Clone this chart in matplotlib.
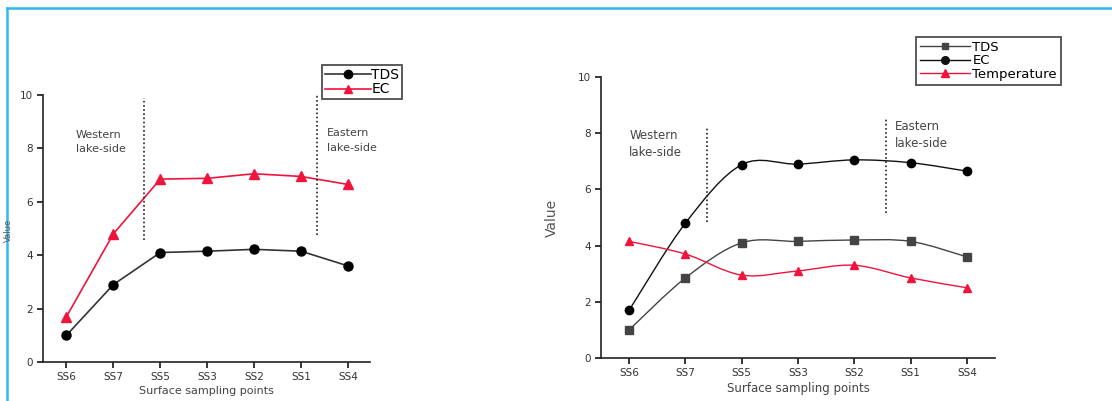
import matplotlib.pyplot as plt
import numpy as np
from matplotlib.path import Path
from matplotlib.patches import PathPatch
from matplotlib.lines import Line2D

# data
points = ["SS6", "SS7", "SS5", "SS3", "SS2", "SS1", "SS4"]
tds_a = [1.0, 2.9, 4.1, 4.15, 4.22, 4.15, 3.6]
ec_a = [1.7, 4.8, 6.85, 6.88, 7.05, 6.95, 6.65]
tds_b = [1.0, 2.85, 4.1, 4.15, 4.2, 4.15, 3.6]
ec_b = [1.7, 4.8, 6.88, 6.9, 7.05, 6.95, 6.65]
temp_b = [4.15, 3.7, 2.95, 3.1, 3.3, 2.85, 2.5]

RED = "#f0143c"
GREY = "#333333"
TXT = "#333333"

plt.rcParams["font.family"] = ["DejaVu Sans"]

fig = plt.figure(figsize=(11.12, 4.01), dpi=100)
W, H = 1112, 401


def px_axes(x0, y0, x1, y1):
    return fig.add_axes([x0 / W, (H - y1) / H, (x1 - x0) / W, (y1 - y0) / H])


def style(ax, xmax):
    ax.set_xlim(-0.5, xmax)
    ax.set_ylim(0, 10)
    ax.set_xticks(range(len(points)))
    ax.set_xticklabels(points)
    ax.set_yticks([0, 2, 4, 6, 8, 10])
    for s in ["top", "right"]:
        ax.spines[s].set_visible(False)
    for s in ["left", "bottom"]:
        ax.spines[s].set_linewidth(1.2)
        ax.spines[s].set_color("#222222")
    ax.tick_params(direction="out", length=4, width=1.1, labelsize=7.5,
                   labelcolor=TXT, pad=3)


def smooth_path(ax, xs, ys, color, lw=1.0):
    # Catmull-Rom style bezier through the data points
    x = np.asarray(xs, float)
    y = np.asarray(ys, float)
    verts = [(x[0], y[0])]
    codes = [Path.MOVETO]
    n = len(x)
    for i in range(n - 1):
        p0 = (x[max(i - 1, 0)], y[max(i - 1, 0)])
        p1 = (x[i], y[i])
        p2 = (x[i + 1], y[i + 1])
        p3 = (x[min(i + 2, n - 1)], y[min(i + 2, n - 1)])
        c1 = (p1[0] + (p2[0] - p0[0]) / 6, p1[1] + (p2[1] - p0[1]) / 6)
        c2 = (p2[0] - (p3[0] - p1[0]) / 6, p2[1] - (p3[1] - p1[1]) / 6)
        verts += [c1, c2, p2]
        codes += [Path.CURVE4] * 3
    ax.add_patch(PathPatch(Path(verts, codes), facecolor="none",
                           edgecolor=color, lw=lw, zorder=2))


# left chart
ax1 = px_axes(43, 95, 370, 362)
style(ax1, 6.47)
x = range(len(points))
ax1.plot(x, ec_a, color=RED, lw=1.2, marker="^", ms=6.5, label="EC")
ax1.plot(x, tds_a, color=GREY, lw=1.2, marker="o", ms=6.5, mfc="black",
         mec="black", label="TDS")
ax1.vlines([1.65], 4.57, 9.89, colors="#222222", linestyles=(0, (1, 1.5)), lw=1.2)
ax1.vlines([5.34], 4.76, 10.1, colors="#222222", linestyles=(0, (1, 1.5)), lw=1.2)
ax1.text(0.2, 8.25, "Western\nlake-side", fontsize=8, color="#444444",
         linespacing=1.55, va="center")
ax1.text(5.55, 8.3, "Eastern\nlake-side", fontsize=8, color="#444444",
         linespacing=1.55, va="center")
ax1.set_xlabel("Surface sampling points", fontsize=8, color="#444444", labelpad=3)
h1 = [Line2D([], [], color=GREY, lw=1.2, marker="o", ms=6, mfc="black", mec="black"),
      Line2D([], [], color=RED, lw=1.2, marker="^", ms=6)]
leg1 = fig.legend(h1, ["TDS", "EC"], loc="upper left",
                  bbox_to_anchor=(322 / W, 1 - 65 / H), fontsize=10,
                  frameon=True, fancybox=False, edgecolor="#222222",
                  handlelength=3.3, handletextpad=0.05, borderpad=0.2,
                  labelspacing=0.05, borderaxespad=0)
leg1.get_frame().set_linewidth(1.3)
fig.text(8 / W, 1 - 230 / H, "Value", rotation=90, fontsize=6, color="#555555",
         ha="center", va="center")

# right chart
ax2 = px_axes(601, 77, 995, 358)
style(ax2, 6.5)
smooth_path(ax2, x, tds_b, "#444444")
smooth_path(ax2, x, ec_b, "#111111")
smooth_path(ax2, x, temp_b, RED)
ax2.plot(x, tds_b, ls="none", marker="s", ms=5.5, color="#444444", zorder=3)
ax2.plot(x, ec_b, ls="none", marker="o", ms=6, color="black", zorder=3)
ax2.plot(x, temp_b, ls="none", marker="^", ms=6, color=RED, zorder=3)
ax2.vlines([1.39], 4.84, 8.19, colors="#222222", linestyles=(0, (1, 1.5)), lw=1.2)
ax2.vlines([4.57], 5.16, 8.5, colors="#222222", linestyles=(0, (1, 1.5)), lw=1.2)
ax2.text(0.0, 7.6, "Western\nlake-side", fontsize=8.5, color="#444444",
         linespacing=1.4, va="center")
ax2.text(4.73, 7.95, "Eastern\nlake-side", fontsize=8.5, color="#444444",
         linespacing=1.4, va="center")
ax2.set_xlabel("Surface sampling points", fontsize=8.5, color="#444444", labelpad=3)
ax2.set_ylabel("Value", fontsize=10, color="#555555", labelpad=14)
h2 = [Line2D([], [], color="#444444", lw=1.0, marker="s", ms=5),
      Line2D([], [], color="#111111", lw=1.0, marker="o", ms=5.5),
      Line2D([], [], color=RED, lw=1.0, marker="^", ms=5.5)]
leg2 = fig.legend(h2, ["TDS", "EC", "Temperature"], loc="upper left",
                  bbox_to_anchor=(916 / W, 1 - 37 / H), fontsize=9.5,
                  frameon=True, fancybox=False, edgecolor="#222222",
                  handlelength=3.8, handletextpad=0.2, borderpad=0.28,
                  labelspacing=0.05, borderaxespad=0)
leg2.get_frame().set_linewidth(1.3)

# blue frame
border = "#2fb8ee"
fig.add_artist(Line2D([7 / W, 1], [1 - 8 / H, 1 - 8 / H], color=border, lw=1.8))
fig.add_artist(Line2D([7 / W, 7 / W], [0, 1 - 8 / H], color=border, lw=1.8))

fig.savefig("out.png", dpi=100, facecolor="white")
